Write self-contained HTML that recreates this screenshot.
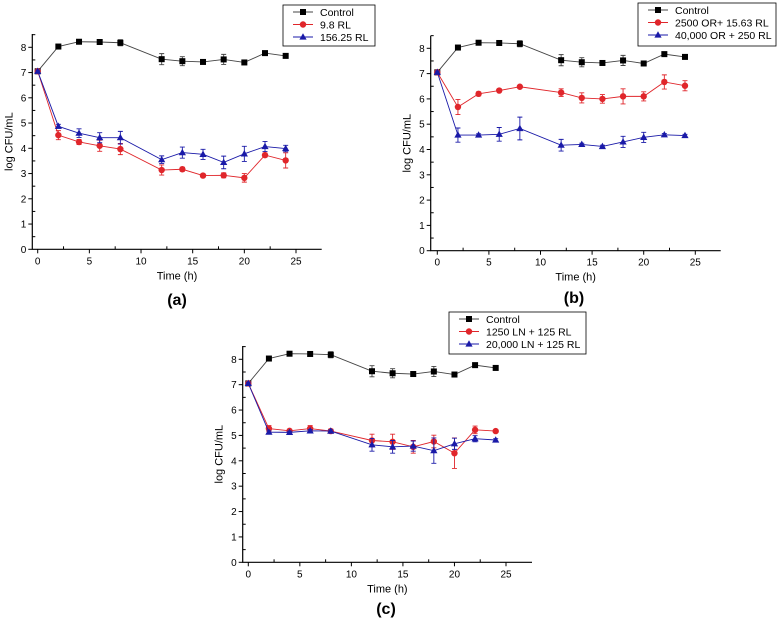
<!DOCTYPE html>
<html><head><meta charset="utf-8"><style>
html,body{margin:0;padding:0;background:#fff;}
svg{display:block;font-family:"Liberation Sans",Arial,sans-serif;}
</style></head><body>
<svg id="fig" width="784" height="625" viewBox="0 0 784 625"></svg>
<script>
const times = [0,2,4,6,8,12,14,16,18,20,22,24];
const xTicks = [0,5,10,15,20,25];
const yTicks = [0,1,2,3,4,5,6,7,8];
const controlVals = [7.05,8.03,8.22,8.21,8.18,7.53,7.45,7.42,7.52,7.40,7.77,7.66];
const controlErr  = [0.05,0.05,0.05,0.05,0.12,0.22,0.18,0.05,0.2,0.08,0.06,0.05];
const aRedVals  = [7.05,4.52,4.25,4.10,3.97,3.14,3.17,2.92,2.93,2.83,3.73,3.52];
const aRedErr   = [0.05,0.18,0.1,0.22,0.22,0.2,0.08,0.05,0.1,0.17,0.08,0.3];
const aBlueVals = [7.05,4.87,4.60,4.42,4.42,3.55,3.83,3.76,3.44,3.78,4.07,3.99];
const aBlueErr  = [0.05,0.08,0.17,0.2,0.25,0.15,0.22,0.2,0.25,0.3,0.2,0.13];
const bRedVals  = [7.05,5.68,6.20,6.33,6.48,6.25,6.04,6.00,6.10,6.10,6.67,6.52];
const bRedErr   = [0.05,0.3,0.08,0.05,0.05,0.15,0.2,0.17,0.3,0.18,0.28,0.2];
const bBlueVals = [7.05,4.57,4.57,4.60,4.83,4.17,4.20,4.12,4.30,4.48,4.58,4.55];
const bBlueErr  = [0.05,0.28,0.05,0.27,0.45,0.23,0.05,0.05,0.22,0.2,0.05,0.05];
const cRedVals  = [7.05,5.27,5.18,5.27,5.17,4.80,4.75,4.55,4.76,4.30,5.22,5.17];
const cRedErr   = [0.05,0.12,0.05,0.12,0.08,0.25,0.3,0.25,0.25,0.6,0.15,0.05];
const cBlueVals = [7.05,5.13,5.12,5.18,5.17,4.63,4.55,4.58,4.40,4.67,4.87,4.82];
const cBlueErr  = [0.05,0.05,0.05,0.05,0.05,0.25,0.25,0.2,0.5,0.22,0.12,0.05];

const NS="http://www.w3.org/2000/svg";
const svg=document.getElementById('fig');
function mk(tag,attrs,parent){const e=document.createElementNS(NS,tag);for(const k in attrs)e.setAttribute(k,attrs[k]);(parent||svg).appendChild(e);return e;}

function panel(p){
  const g=mk('g',{});
  
  
  const sx=v=>p.x0+(p.x25-p.x0)*v/25;
  const sy=v=>p.y0+(p.y8-p.y0)*v/8;
  // axes
  const ax=mk('path',{d:`M${p.ax} ${p.top} V${p.y0} H${p.right}`,stroke:'#000','stroke-width':1.2,fill:'none'},g);
  
  
  xTicks.forEach(t=>{
    mk('line',{x1:sx(t),x2:sx(t),y1:p.y0,y2:p.y0+4,stroke:'#000'},g);
    const tx=mk('text',{x:sx(t),y:p.y0+15,'font-size':10,'text-anchor':'middle'},g);tx.textContent=t;
    
    
    if(t<25) mk('line',{x1:sx(t+2.5),x2:sx(t+2.5),y1:p.y0,y2:p.y0-3,stroke:'#000'},g);
  });
  yTicks.forEach(t=>{
    mk('line',{x1:p.ax,x2:p.ax-4,y1:sy(t),y2:sy(t),stroke:'#000'},g);
    const tx=mk('text',{x:p.ax-6,y:sy(t)+3.5,'font-size':10,'text-anchor':'end'},g);tx.textContent=t;
    
    
    mk('line',{x1:p.ax,x2:p.ax+3,y1:sy(t+0.5),y2:sy(t+0.5),stroke:'#000'},g);
  });
  const xt=mk('text',{x:(p.ax+p.right)/2,y:p.y0+30,'font-size':11,'text-anchor':'middle'},g);xt.textContent='Time (h)';
  
  
  const yc=(p.y0+p.top)/2;
  const yt=mk('text',{x:p.ax-20,y:yc,'font-size':11,'text-anchor':'middle',transform:`rotate(-90 ${p.ax-20} ${yc})`},g);yt.textContent='log CFU/mL';
  
  
  const lab=mk('text',{x:p.labX,y:p.labY,'font-size':16,'font-weight':'bold','text-anchor':'middle'},g);lab.textContent='('+p.id+')';
  
  
  p.series.forEach((s,si)=>{
    const sg=mk('g',{},g);
    
    
    const lc=s.color==='#000'?'#444':s.color;
    mk('polyline',{points:times.map((t,i)=>sx(t)+','+sy(s.vals[i])).join(' '),fill:'none',stroke:lc,'stroke-width':0.9},sg);
    times.forEach((t,i)=>{
      const x=sx(t),y=sy(s.vals[i]),e=s.err[i];
      const y1=sy(s.vals[i]+e),y2=sy(s.vals[i]-e);
      mk('path',{d:`M${x} ${y1} V${y2} M${x-2.5} ${y1} H${x+2.5} M${x-2.5} ${y2} H${x+2.5}`,stroke:lc,'stroke-width':0.9,fill:'none'},sg);
      marker(sg,s.shape,x,y,s.color);
    });
  });
  const L=p.leg;
  const lg=mk('g',{},g);
  
  
  mk('rect',{x:L.x,y:L.y,width:L.w,height:L.h,fill:'#fff',stroke:'#000','stroke-width':0.8},lg);
  p.series.forEach((s,si)=>{
    const yy=L.y+7+si*12.5;
    const lc=s.color==='#000'?'#444':s.color;
    mk('line',{x1:L.x+10,x2:L.x+30,y1:yy,y2:yy,stroke:lc},lg);
    marker(lg,s.shape,L.x+20,yy,s.color);
    const t=mk('text',{x:L.x+37,y:yy+4,'font-size':10.5},lg);t.textContent=s.label;
    
    
  });
}
function marker(g,shape,x,y,c){
  if(shape==='sq') mk('rect',{x:x-3,y:y-3,width:6,height:6,fill:c},g);
  else if(shape==='ci') mk('circle',{cx:x,cy:y,r:3.2,fill:c},g);
  else mk('path',{d:`M${x} ${y-3.8} L${x+3.6} ${y+2.6} L${x-3.6} ${y+2.6}Z`,fill:c},g);
}
const ctl={key:'control',label:'Control',vals:controlVals,err:controlErr,color:'#000',shape:'sq'};
panel({id:'a',ax:32.3,x0:37.7,x25:296,right:321.7,y0:249.3,y8:47.3,top:34,labX:177,labY:305,
  leg:{x:283,y:5,w:92,h:41},
  series:[ctl,{key:'red',label:'9.8 RL',vals:aRedVals,err:aRedErr,color:'#e0262b',shape:'ci'},
          {key:'blue',label:'156.25 RL',vals:aBlueVals,err:aBlueErr,color:'#1a1aa8',shape:'tri'}]});
panel({id:'b',ax:430.7,x0:437.3,x25:695.3,right:720.7,y0:250.7,y8:48.3,top:35.7,labX:574,labY:303,
  leg:{x:638,y:3,w:138,h:43},
  series:[ctl,{key:'red',label:'2500 OR+ 15.63 RL',vals:bRedVals,err:bRedErr,color:'#e0262b',shape:'ci'},
          {key:'blue',label:'40,000 OR + 250 RL',vals:bBlueVals,err:bBlueErr,color:'#1a1aa8',shape:'tri'}]});
panel({id:'c',ax:242.7,x0:248.3,x25:506,right:532,y0:562.3,y8:359.3,top:346,labX:386,labY:614,
  leg:{x:449,y:312,w:137,h:42},
  series:[ctl,{key:'red',label:'1250 LN + 125 RL',vals:cRedVals,err:cRedErr,color:'#e0262b',shape:'ci'},
          {key:'blue',label:'20,000 LN + 125 RL',vals:cBlueVals,err:cBlueErr,color:'#1a1aa8',shape:'tri'}]});
</script>
</body></html>
